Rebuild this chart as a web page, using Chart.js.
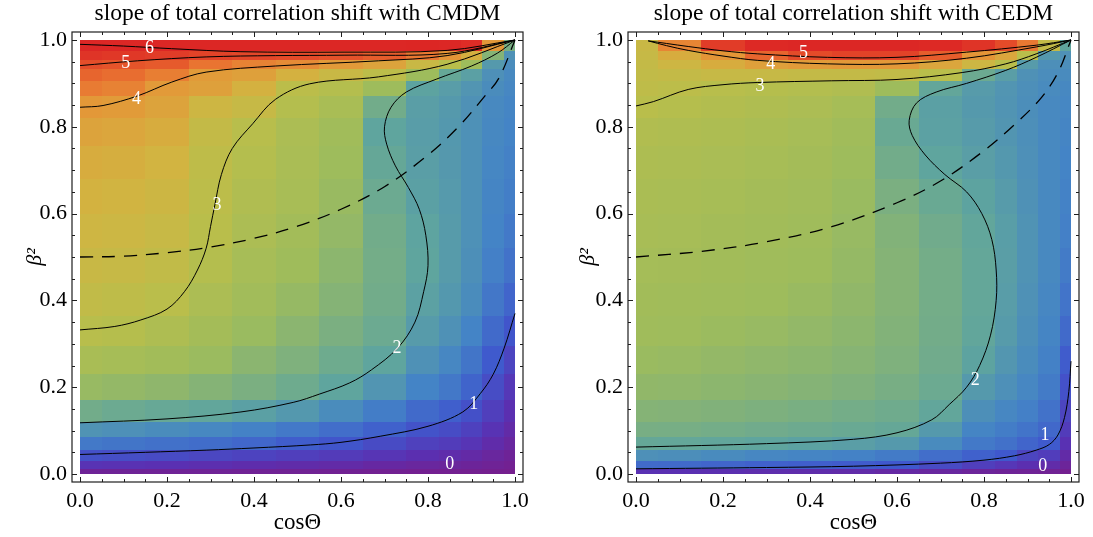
<!DOCTYPE html>
<html>
<head>
<meta charset="utf-8">
<script src="https://cdn.jsdelivr.net/npm/chart.js@4.4.1/dist/chart.umd.min.js"></script>
<style>
  body { margin: 0; background: #fff; }
  #wrap { position: relative; width: 1093px; height: 537px; }
  #left { position: absolute; left: 0; top: 0; }
  #right { position: absolute; left: 546px; top: 0; }
</style>
</head>
<body>
<div id="wrap">
  <canvas id="left" width="546" height="537"></canvas>
  <canvas id="right" width="547" height="537"></canvas>
</div>
<script>
// sample grid of the density plots (cell centres)
const cosTheta = [0, 0.1, 0.2, 0.3, 0.4, 0.5, 0.6, 0.7, 0.8, 0.85, 0.9, 0.95, 1.0];
const beta2 = [0.005, 0.02, 0.04, 0.07, 0.1, 0.14, 0.2, 0.26, 0.33, 0.4, 0.48, 0.56, 0.64, 0.72, 0.79, 0.85, 0.89, 0.92, 0.945, 0.965, 0.985];
const tickValues = [0, 0.2, 0.4, 0.6, 0.8, 1.0];

// slope values, one row per beta2, one column per cosTheta
const slopeCMDM = [
  [0.12, 0.11, 0.10, 0.10, 0.09, 0.08, 0.07, 0.06, 0.05, 0.05, 0.04, 0.03, 0.02],
  [0.45, 0.43, 0.40, 0.37, 0.34, 0.31, 0.28, 0.23, 0.19, 0.17, 0.14, 0.10, 0.06],
  [0.90, 0.85, 0.80, 0.74, 0.68, 0.62, 0.56, 0.47, 0.38, 0.33, 0.27, 0.19, 0.12],
  [1.38, 1.33, 1.28, 1.24, 1.17, 1.06, 0.96, 0.80, 0.65, 0.58, 0.47, 0.32, 0.20],
  [1.72, 1.68, 1.62, 1.56, 1.48, 1.38, 1.25, 1.10, 0.92, 0.82, 0.66, 0.45, 0.28],
  [2.15, 2.10, 2.06, 2.02, 1.93, 1.80, 1.62, 1.42, 1.20, 1.08, 0.88, 0.62, 0.38],
  [2.45, 2.42, 2.38, 2.30, 2.22, 2.12, 2.00, 1.75, 1.50, 1.36, 1.14, 0.83, 0.52],
  [2.70, 2.65, 2.58, 2.48, 2.35, 2.25, 2.12, 2.00, 1.70, 1.55, 1.33, 1.02, 0.72],
  [2.98, 2.93, 2.80, 2.62, 2.47, 2.35, 2.22, 2.10, 1.85, 1.70, 1.50, 1.20, 0.95],
  [3.15, 3.10, 3.02, 2.75, 2.57, 2.44, 2.30, 2.15, 1.94, 1.80, 1.62, 1.35, 1.15],
  [3.30, 3.25, 3.15, 2.90, 2.66, 2.52, 2.36, 2.17, 2.00, 1.85, 1.67, 1.45, 1.30],
  [3.42, 3.37, 3.27, 3.00, 2.75, 2.60, 2.42, 2.15, 1.98, 1.85, 1.69, 1.50, 1.38],
  [3.53, 3.48, 3.38, 3.05, 2.83, 2.68, 2.46, 2.10, 1.93, 1.83, 1.69, 1.52, 1.43],
  [3.65, 3.60, 3.50, 3.10, 2.90, 2.72, 2.50, 2.05, 1.90, 1.81, 1.69, 1.54, 1.47],
  [3.80, 3.75, 3.65, 3.20, 2.98, 2.75, 2.55, 2.00, 1.88, 1.80, 1.69, 1.56, 1.50],
  [4.00, 3.95, 3.80, 3.40, 3.25, 2.90, 2.70, 2.15, 1.90, 1.82, 1.70, 1.58, 1.52],
  [4.45, 4.35, 3.97, 3.85, 3.55, 3.03, 2.90, 2.50, 1.97, 1.88, 1.75, 1.62, 1.55],
  [4.75, 4.65, 4.40, 3.95, 3.85, 3.55, 3.30, 3.05, 2.50, 2.05, 1.92, 1.68, 1.58],
  [5.05, 4.98, 4.90, 4.55, 4.35, 4.20, 3.97, 3.80, 3.30, 3.00, 2.50, 1.82, 1.62],
  [5.40, 5.35, 5.30, 5.20, 5.15, 5.10, 5.00, 4.85, 4.50, 4.05, 3.60, 2.30, 1.70],
  [5.90, 5.90, 5.90, 5.90, 5.90, 5.90, 5.90, 5.90, 6.00, 5.90, 5.60, 4.00, 2.20]
];

const slopeCEDM = [
  [0.42, 0.40, 0.38, 0.35, 0.33, 0.30, 0.25, 0.20, 0.15, 0.12, 0.10, 0.08, 0.04],
  [1.22, 1.20, 1.15, 1.10, 1.08, 1.05, 1.00, 0.80, 0.62, 0.50, 0.38, 0.30, 0.15],
  [1.68, 1.65, 1.60, 1.55, 1.52, 1.48, 1.40, 1.25, 1.10, 1.00, 0.72, 0.60, 0.28],
  [2.05, 2.04, 2.02, 2.00, 1.95, 1.90, 1.82, 1.60, 1.38, 1.28, 1.15, 1.02, 0.42],
  [2.20, 2.19, 2.17, 2.14, 2.11, 2.08, 2.05, 1.82, 1.52, 1.42, 1.32, 1.18, 0.58],
  [2.30, 2.29, 2.27, 2.24, 2.21, 2.17, 2.13, 2.02, 1.67, 1.55, 1.45, 1.30, 0.72],
  [2.40, 2.39, 2.36, 2.33, 2.30, 2.26, 2.20, 2.10, 1.82, 1.68, 1.55, 1.40, 0.90],
  [2.47, 2.45, 2.42, 2.39, 2.36, 2.32, 2.25, 2.14, 1.97, 1.78, 1.62, 1.47, 1.05],
  [2.53, 2.51, 2.48, 2.45, 2.41, 2.36, 2.28, 2.16, 2.02, 1.85, 1.67, 1.52, 1.20],
  [2.58, 2.56, 2.53, 2.50, 2.46, 2.40, 2.30, 2.17, 2.04, 1.88, 1.70, 1.55, 1.32],
  [2.63, 2.61, 2.58, 2.54, 2.50, 2.43, 2.30, 2.17, 2.04, 1.90, 1.72, 1.57, 1.40],
  [2.68, 2.66, 2.62, 2.58, 2.53, 2.45, 2.28, 2.14, 2.02, 1.89, 1.72, 1.58, 1.45],
  [2.73, 2.71, 2.67, 2.62, 2.57, 2.47, 2.22, 2.08, 1.97, 1.85, 1.70, 1.58, 1.48],
  [2.78, 2.76, 2.72, 2.67, 2.61, 2.50, 2.15, 2.00, 1.90, 1.80, 1.68, 1.58, 1.50],
  [2.85, 2.82, 2.78, 2.73, 2.66, 2.55, 2.08, 1.94, 1.85, 1.76, 1.66, 1.58, 1.52],
  [3.00, 2.93, 2.87, 2.82, 2.75, 2.65, 2.15, 1.93, 1.82, 1.74, 1.65, 1.58, 1.54],
  [3.10, 3.05, 2.98, 2.93, 2.89, 2.83, 2.50, 2.03, 1.85, 1.75, 1.66, 1.60, 1.56],
  [3.15, 3.20, 3.25, 3.25, 3.20, 3.20, 3.15, 3.00, 2.10, 1.90, 1.70, 1.63, 1.60],
  [3.20, 3.40, 3.65, 3.85, 3.95, 4.00, 4.00, 3.75, 3.40, 3.00, 1.85, 1.66, 1.65],
  [3.25, 3.65, 4.05, 4.75, 5.10, 5.20, 5.20, 4.85, 4.05, 3.75, 3.00, 1.80, 1.70],
  [3.30, 4.30, 5.30, 5.80, 5.90, 5.90, 5.90, 5.80, 5.40, 5.10, 4.50, 3.20, 2.00]
];

// contour lines [cosTheta, beta2]
const cmdmLevel1 = [[0,0.045],[0.15,0.05],[0.29,0.055],[0.4,0.06],[0.53,0.067],[0.6,0.073],[0.69,0.087],[0.8,0.11],[0.88,0.143],[0.92,0.185],[0.95,0.23],[0.975,0.29],[1,0.37]];
const cmdmLevel2 = [[0,0.118],[0.2,0.127],[0.37,0.143],[0.49,0.165],[0.55,0.184],[0.62,0.21],[0.67,0.24],[0.73,0.29],[0.77,0.35],[0.79,0.42],[0.8,0.48],[0.795,0.55],[0.78,0.61],[0.755,0.66],[0.725,0.71],[0.705,0.76],[0.7,0.8],[0.715,0.845],[0.75,0.88],[0.82,0.91],[0.9,0.94],[0.96,0.97],[1,1]];
const cmdmLevel3 = [[0,0.332],[0.08,0.34],[0.14,0.355],[0.2,0.38],[0.24,0.42],[0.27,0.47],[0.29,0.52],[0.3,0.57],[0.31,0.62],[0.325,0.69],[0.35,0.75],[0.397,0.807],[0.449,0.863],[0.528,0.899],[0.686,0.915],[0.844,0.944],[1,1]];
const cmdmLevel4 = [[0,0.845],[0.053,0.849],[0.132,0.871],[0.211,0.903],[0.29,0.926],[0.449,0.94],[0.686,0.952],[0.844,0.964],[1,1]];
const cmdmLevel5 = [[0,0.941],[0.132,0.952],[0.29,0.961],[0.449,0.964],[0.607,0.965],[0.844,0.969],[1,1]];
const cmdmLevel6 = [[0,0.99],[0.1,0.986],[0.21,0.98],[0.37,0.973],[0.607,0.972],[0.844,0.976],[1,1]];
const cmdmDashed = [[0,0.5],[0.1,0.502],[0.2,0.51],[0.3,0.523],[0.4,0.543],[0.5,0.571],[0.6,0.61],[0.7,0.662],[0.8,0.735],[0.87,0.8],[0.93,0.87],[0.963,0.912],[1,1]];

const cedmLevel1 = [[0,0.012],[0.3,0.015],[0.5,0.018],[0.7,0.025],[0.8,0.032],[0.87,0.042],[0.92,0.055],[0.95,0.068],[0.97,0.09],[0.985,0.13],[0.995,0.19],[1,0.26]];
const cedmLevel2 = [[0,0.062],[0.3,0.07],[0.5,0.08],[0.6,0.095],[0.68,0.125],[0.72,0.16],[0.76,0.2],[0.79,0.25],[0.815,0.32],[0.828,0.4],[0.828,0.47],[0.818,0.54],[0.795,0.6],[0.76,0.65],[0.71,0.69],[0.665,0.735],[0.635,0.78],[0.628,0.815],[0.645,0.855],[0.69,0.88],[0.76,0.9],[0.85,0.93],[0.92,0.96],[1,1]];
const cedmLevel3 = [[0,0.848],[0.04,0.858],[0.12,0.886],[0.2,0.897],[0.28,0.902],[0.45,0.906],[0.6,0.909],[0.75,0.925],[0.85,0.945],[0.92,0.968],[1,1]];
const cedmLevel4 = [[0.028,0.998],[0.07,0.987],[0.12,0.976],[0.2,0.963],[0.28,0.953],[0.44,0.945],[0.6,0.945],[0.76,0.958],[0.92,0.984],[1,1]];
const cedmLevel5 = [[0.028,0.998],[0.07,0.992],[0.12,0.985],[0.2,0.975],[0.28,0.968],[0.44,0.96],[0.6,0.96],[0.76,0.972],[0.92,0.988],[1,1]];
const cedmDashed = [[0,0.5],[0.15,0.513],[0.3,0.535],[0.45,0.57],[0.6,0.625],[0.7,0.675],[0.8,0.745],[0.87,0.805],[0.93,0.865],[0.97,0.925],[1,1]];

// contour labels [text, cosTheta, beta2]
const cmdmLabels = [['6',0.16,0.982],['5',0.105,0.947],['4',0.13,0.863],['3',0.315,0.62],['2',0.729,0.29],['1',0.905,0.161],['0',0.85,0.023]];
const cedmLabels = [['5',0.385,0.97],['4',0.31,0.943],['3',0.285,0.893],['2',0.78,0.217],['1',0.94,0.09],['0',0.935,0.017]];

// colour function of the density plot (slope value -> rgb)
const colorStops = [
  [0, 118, 30, 140], [0.4, 90, 48, 178], [1, 63, 88, 205], [1.5, 68, 132, 198],
  [2, 95, 165, 158], [2.5, 158, 188, 92], [3, 185, 190, 75], [3.5, 210, 180, 65],
  [4, 227, 152, 56], [4.5, 233, 120, 50], [5, 229, 82, 42], [5.5, 222, 45, 38], [6.4, 218, 32, 35]
];

function slopeColor(v) {
  if (v <= colorStops[0][0]) return `rgb(${colorStops[0].slice(1).join(',')})`;
  for (let i = 1; i < colorStops.length; i++) {
    const a = colorStops[i - 1], b = colorStops[i];
    if (v <= b[0]) {
      const t = (v - a[0]) / (b[0] - a[0]);
      const c = [1, 2, 3].map(k => Math.round(a[k] + (b[k] - a[k]) * t));
      return `rgb(${c.join(',')})`;
    }
  }
  const last = colorStops[colorStops.length - 1];
  return `rgb(${last.slice(1).join(',')})`;
}

const serif = 'Liberation Serif';

// density cells, drawn under the contour lines
const heatmap = {
  id: 'heatmap',
  beforeDatasetsDraw(chart, args, opts) {
    const { ctx, scales: { x, y } } = chart;
    const edge = (arr, i, lo) => {
      if (lo) return i === 0 ? 0 : (arr[i - 1] + arr[i]) / 2;
      return i === arr.length - 1 ? 1 : (arr[i] + arr[i + 1]) / 2;
    };
    ctx.save();
    for (let i = 0; i < beta2.length; i++) {
      const yb = Math.round(y.getPixelForValue(edge(beta2, i, true)));
      const yt = Math.round(y.getPixelForValue(edge(beta2, i, false)));
      for (let j = 0; j < cosTheta.length; j++) {
        const xl = Math.round(x.getPixelForValue(edge(cosTheta, j, true)));
        const xr = Math.round(x.getPixelForValue(edge(cosTheta, j, false)));
        ctx.fillStyle = slopeColor(opts.values[i][j]);
        ctx.fillRect(xl, yt, xr - xl, yb - yt);
      }
    }
    ctx.restore();
  },
  afterDatasetsDraw(chart, args, opts) {
    const { ctx, scales: { x, y } } = chart;
    ctx.save();
    ctx.fillStyle = '#fff';
    ctx.font = `18px "${serif}"`;
    ctx.textAlign = 'center';
    ctx.textBaseline = 'middle';
    opts.labels.forEach(([t, cx, cy]) => {
      ctx.fillText(t, x.getPixelForValue(cx), y.getPixelForValue(cy));
    });
    ctx.restore();
  }
};

// Mathematica style frame with inward ticks on all sides
const frame = {
  id: 'frame',
  afterDraw(chart) {
    const { ctx, chartArea: a, scales: { x, y } } = chart;
    ctx.save();
    ctx.strokeStyle = '#1e1e1e';
    ctx.lineWidth = 1.2;
    ctx.strokeRect(a.left, a.top, a.right - a.left, a.bottom - a.top);
    ctx.lineWidth = 1;
    ctx.beginPath();
    for (let k = 0; k <= 20; k++) {
      const len = k % 4 === 0 ? 5 : 3;
      const px = Math.round(x.getPixelForValue(k / 20)) + 0.5;
      const py = Math.round(y.getPixelForValue(k / 20)) + 0.5;
      ctx.moveTo(px, a.bottom); ctx.lineTo(px, a.bottom - len);
      ctx.moveTo(px, a.top); ctx.lineTo(px, a.top + len);
      ctx.moveTo(a.left, py); ctx.lineTo(a.left + len, py);
      ctx.moveTo(a.right, py); ctx.lineTo(a.right - len, py);
    }
    ctx.stroke();
    ctx.restore();
  }
};

function contour(points, dashed) {
  return {
    data: points.map(([x, y]) => ({ x, y })),
    showLine: true,
    pointRadius: 0,
    borderColor: '#000',
    borderWidth: dashed ? 1.3 : 1,
    borderDash: dashed ? [13, 9] : [],
    tension: 0.35
  };
}

function makeChart(id, title, lines, values, labels, geo) {
  const pad = 8 / 435;
  const tickFont = { family: serif, size: 22 };
  return new Chart(document.getElementById(id), {
    type: 'scatter',
    data: { datasets: lines },
    options: {
      responsive: false,
      animation: false,
      events: [],
      layout: { padding: { left: 0, right: geo.right, top: 0, bottom: 0 } },
      plugins: {
        legend: { display: false },
        tooltip: { enabled: false },
        title: {
          display: true, text: title, fullSize: false, color: '#000',
          font: { family: serif, size: 23.5, weight: 'normal' },
          padding: { top: 0, bottom: 3.8 }
        },
        heatmap: { values, labels }
      },
      scales: {
        x: {
          type: 'linear', min: -pad, max: 1 + pad,
          afterBuildTicks: s => { s.ticks = tickValues.map(v => ({ value: v })); },
          afterFit: s => { s.height = 55; },
          grid: { display: false, drawTicks: false },
          border: { display: false },
          ticks: { color: '#000', font: tickFont, padding: 6, maxRotation: 0, callback: v => v.toFixed(1) },
          title: { display: true, text: 'cosΘ', color: '#000', font: { family: serif, size: 23 }, padding: { top: 0, bottom: 0 } }
        },
        y: {
          type: 'linear', min: -pad, max: 1 + pad,
          afterBuildTicks: s => { s.ticks = tickValues.map(v => ({ value: v })); },
          afterFit: s => { s.width = geo.left; },
          grid: { display: false, drawTicks: false },
          border: { display: false },
          ticks: { color: '#000', font: tickFont, padding: 5, callback: v => v.toFixed(1) },
          title: { display: true, text: 'β²', color: '#000', font: { family: serif, size: 22, style: 'italic' }, padding: { top: geo.titlePad, bottom: 0 } }
        }
      }
    },
    plugins: [heatmap, frame]
  });
}

makeChart('left', 'slope of total correlation shift with CMDM',
  [cmdmLevel1, cmdmLevel2, cmdmLevel3, cmdmLevel4, cmdmLevel5, cmdmLevel6].map(l => contour(l, false)).concat([contour(cmdmDashed, true)]),
  slopeCMDM, cmdmLabels, { left: 72, right: 23, titlePad: 22 });

makeChart('right', 'slope of total correlation shift with CEDM',
  [cedmLevel1, cedmLevel2, cedmLevel3, cedmLevel4, cedmLevel5].map(l => contour(l, false)).concat([contour(cedmDashed, true)]),
  slopeCEDM, cedmLabels, { left: 82, right: 14, titlePad: 29 });
</script>
</body>
</html>
